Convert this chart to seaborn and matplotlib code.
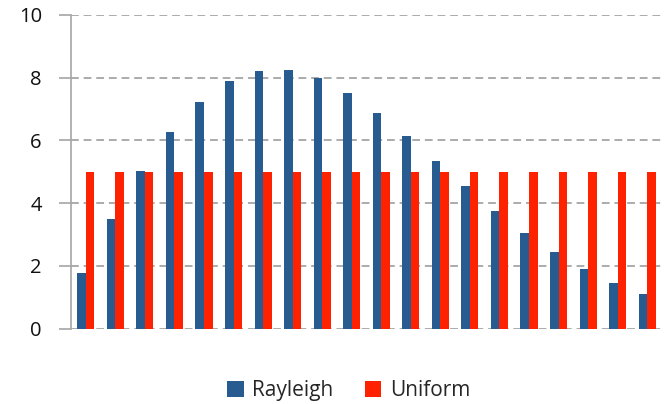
import matplotlib
matplotlib.use("Agg")
import matplotlib.pyplot as plt
import seaborn as sns
import pandas as pd
from matplotlib.patches import Patch

categories = list(range(1, 21))
rayleigh = [1.78, 3.48, 5.01, 6.26, 7.23, 7.90, 8.21, 8.23, 7.99, 7.51,
            6.87, 6.13, 5.34, 4.53, 3.76, 3.06, 2.45, 1.89, 1.44, 1.09]
uniform = [5.0] * 20
series_names = ["Rayleigh", "Uniform"]
y_ticks = [0, 2, 4, 6, 8, 10]

df = pd.DataFrame({
    "bin": categories * 2,
    "value": rayleigh + uniform,
    "series": [series_names[0]] * 20 + [series_names[1]] * 20,
})

sns.set_theme(style="white")
plt.rcParams["font.family"] = ["Open Sans", "DejaVu Sans"]

fig = plt.figure(figsize=(6.64, 4.04), dpi=100)
ax = fig.add_axes([71 / 664, 1 - 328.5 / 404, 591 / 664, 313.5 / 404])

palette = {"Rayleigh": "#285C90", "Uniform": "#FF2200"}
sns.barplot(data=df, x="bin", y="value", hue="series", palette=palette,
            width=0.58, gap=0, ax=ax, legend=False, saturation=1,
            edgecolor="none")

ax.set_xlim(-0.5, 19.5)
ax.set_ylim(0, 10)
ax.set_yticks(y_ticks)
ax.set_yticklabels([str(t) for t in y_ticks], fontsize=14.5, color="#111111")
ax.set_xticks([])
ax.set_xlabel("")
ax.set_ylabel("")

for t in y_ticks:
    ax.axhline(t, color="#ababab", lw=1.4, ls=(0, (4, 2.5)), zorder=0)

for side in ["top", "right", "bottom"]:
    ax.spines[side].set_visible(False)
ax.spines["left"].set_color("#a6a6a6")
ax.spines["left"].set_linewidth(1.2)
ax.tick_params(axis="y", length=9, width=1.2, color="#a6a6a6", pad=12, left=True)

handles = [Patch(facecolor=palette[s], edgecolor="none", label=s) for s in series_names]
fig.legend(handles=handles, loc="lower center", bbox_to_anchor=(0.525, -0.04),
           ncol=2, frameon=False, fontsize=15, handlelength=0.8,
           handleheight=0.8, handletextpad=0.4, columnspacing=1.5)

fig.savefig("out.png", dpi=100)
